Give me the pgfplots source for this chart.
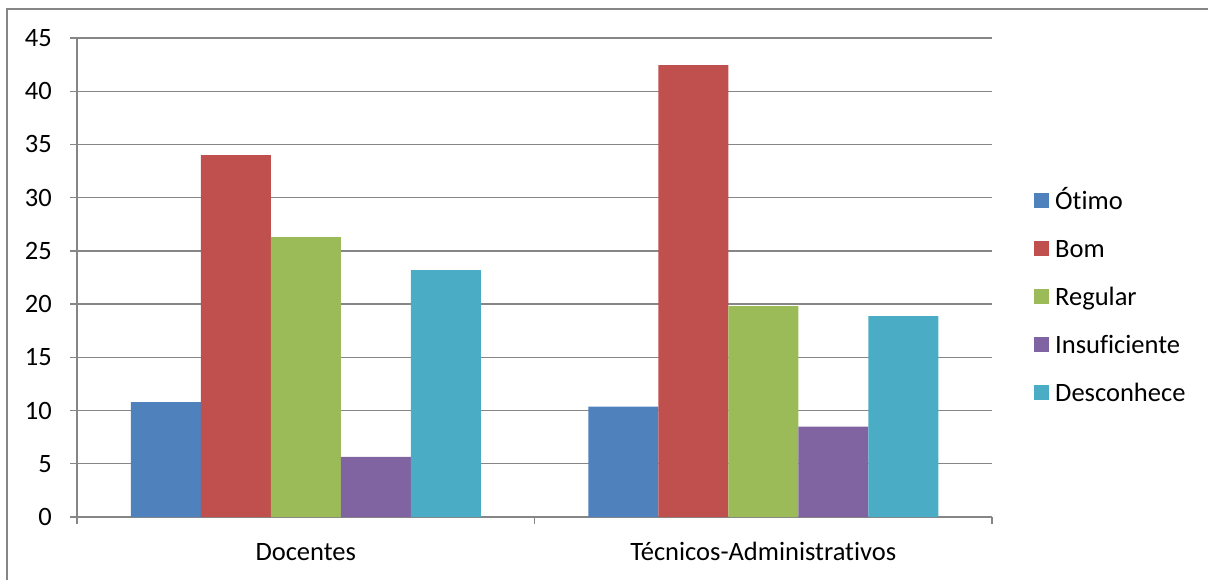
\documentclass[border=0pt]{standalone}
\usepackage{pgfplots}
\pgfplotsset{compat=1.18}
\usepackage{fontspec}
\setmainfont{Carlito}[Ligatures=NoCommon]
\definecolor{cOtimo}{HTML}{4F81BD}
\definecolor{cBom}{HTML}{C0504D}
\definecolor{cRegular}{HTML}{9BBB59}
\definecolor{cInsuf}{HTML}{8064A2}
\definecolor{cDesc}{HTML}{4BACC6}
\definecolor{gridgray}{HTML}{868686}
\begin{document}
\begin{tikzpicture}
\useasboundingbox (0,0) rectangle (1208pt,579pt);
\draw[gridgray, line width=1.3pt] (7pt,-5pt) -- (7pt,570pt) -- (1215pt,570pt);
\begin{axis}[
  at={(77pt,62pt)}, anchor=south west,
  scale only axis, width=915pt, height=479pt,
  ybar=0pt, bar width=70pt,
  xmin=-0.5, xmax=1.5, ymin=0, ymax=45,
  xtick={0,1}, xticklabels={Docentes,Técnicos-Administrativos},
  minor xtick={-0.5,0.5,1.5},
  ytick={0,5,...,45},
  axis lines*=left,
  axis line style={gridgray, line width=1.4pt},
  ymajorgrids, major grid style={gridgray, line width=1.4pt},
  tick align=outside,
  major tick length=7pt, minor tick length=7pt,
  x tick style={draw=none},
  minor x tick style={draw=gridgray, line width=1.4pt},
  y tick style={gridgray, line width=1.4pt},
  font=\fontsize{26.5}{30}\selectfont,
  /pgf/number format/assume math mode=true,
  xticklabel style={anchor=north, inner sep=0pt, text height=18pt, text depth=5pt, yshift=-18pt},
  yticklabel style={anchor=east, inner sep=0pt, xshift=-18pt},
  legend style={at={(axis description cs:1.0459,0.4551)}, anchor=west, draw=none, fill=none,
    inner sep=0pt, row sep=24pt, font=\fontsize{26.5}{30}\selectfont,
    nodes={inner sep=0pt, text height=18pt, text depth=6pt},
    /tikz/column sep=6pt},
  legend image code/.code={\fill[#1] (0pt,-5pt) rectangle (15pt,10pt);},
  legend cell align=left,
]
\addplot[fill=cOtimo, draw=none] coordinates {(0,10.8) (1,10.36)};
\addplot[fill=cBom, draw=none] coordinates {(0,34.0) (1,42.46)};
\addplot[fill=cRegular, draw=none] coordinates {(0,26.3) (1,19.82)};
\addplot[fill=cInsuf, draw=none] coordinates {(0,5.64) (1,8.49)};
\addplot[fill=cDesc, draw=none] coordinates {(0,23.2) (1,18.86)};
\legend{Ótimo,Bom,Regular,Insuficiente,Desconhece}
\end{axis}
\end{tikzpicture}
\end{document}
